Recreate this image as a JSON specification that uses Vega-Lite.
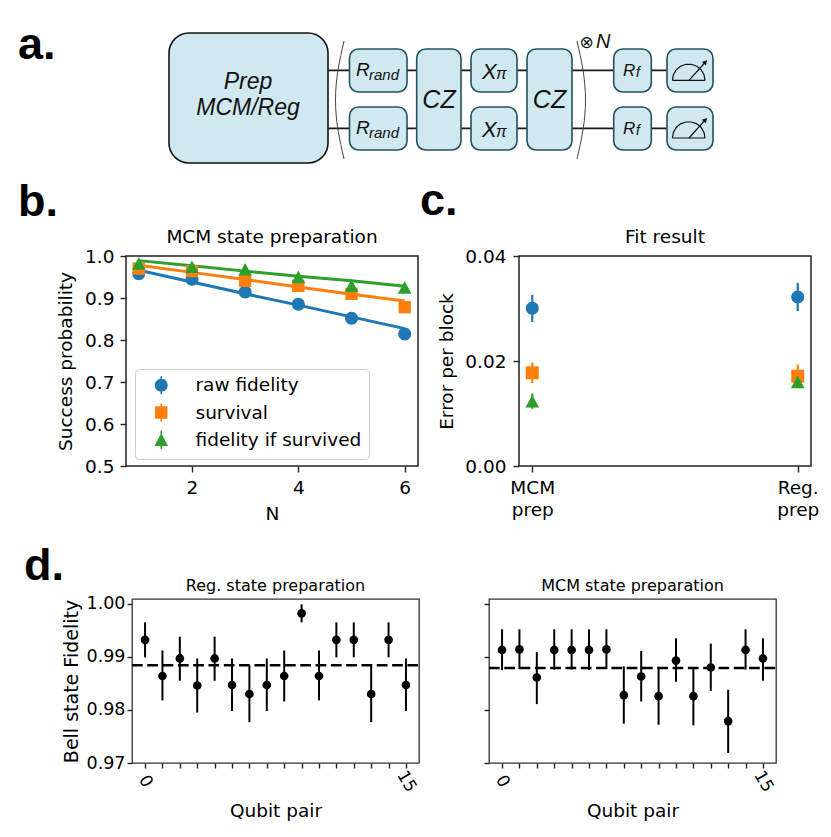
{"$schema":"https://vega.github.io/schema/vega-lite/v6.json","padding":0,"background":"white","spacing":0,
"resolve":{"scale":{"color":"independent","shape":"independent"},"legend":{"color":"independent","shape":"independent"}},
"config":{"font":"DejaVu Sans","view":{"stroke":null},"axis":{"grid":false,"domain":false,"tickColor":"#222","tickWidth":1.4,"tickSize":6,"labelColor":"#000","titleColor":"#000","titleFontWeight":"normal","labelFontWeight":"normal","labelFont":"DejaVu Sans","titleFont":"DejaVu Sans"},"title":{"fontWeight":"normal","color":"#000","font":"DejaVu Sans","anchor":"middle"}},
"datasets":{
"wires":[{"g":"t","x":328,"y":70.3},{"g":"t","x":667,"y":70.3},{"g":"b","x":328,"y":128.3},{"g":"b","x":667,"y":128.3}],
"brackets":[{"g":"l","i":0,"x":344,"y":41},{"g":"l","i":1,"x":338,"y":70},{"g":"l","i":2,"x":335.5,"y":100},{"g":"l","i":3,"x":338,"y":130},{"g":"l","i":4,"x":344,"y":159},{"g":"r","i":0,"x":577,"y":41},{"g":"r","i":1,"x":583,"y":70},{"g":"r","i":2,"x":585.5,"y":100},{"g":"r","i":3,"x":583,"y":130},{"g":"r","i":4,"x":577,"y":159}],
"big":[{"name":"prep","x":169,"x2":328,"y":33,"y2":163}],
"boxes":[{"name":"Rrand1","x":349.5,"x2":407,"y":49,"y2":92},{"name":"Rrand2","x":349.5,"x2":407,"y":107,"y2":150},{"name":"CZ1","x":416.7,"x2":461,"y":49,"y2":150},{"name":"X1","x":471,"x2":517,"y":49,"y2":92},{"name":"X2","x":471,"x2":517,"y":107,"y2":150},{"name":"CZ2","x":527,"x2":572,"y":49,"y2":150},{"name":"Rf1","x":613.7,"x2":651.3,"y":49,"y2":92},{"name":"Rf2","x":613.7,"x2":651.3,"y":107,"y2":150},{"name":"M1","x":667,"x2":713,"y":49,"y2":92},{"name":"M2","x":667,"x2":713,"y":107,"y2":150}],
"meters":[{"g":"a1","x":672.4,"y":80.3},{"g":"a1","x":673.4,"y":74.7},{"g":"a1","x":676.2,"y":69.8},{"g":"a1","x":680.5,"y":66.2},{"g":"a1","x":685.9,"y":64.3},{"g":"a1","x":691.5,"y":64.3},{"g":"a1","x":696.9,"y":66.2},{"g":"a1","x":701.2,"y":69.8},{"g":"a1","x":704,"y":74.7},{"g":"a1","x":705,"y":80.3},{"g":"c1","x":672.4,"y":80.3},{"g":"c1","x":705,"y":80.3},{"g":"n1","x":689,"y":80.3},{"g":"n1","x":705,"y":62.5},
{"g":"a2","x":672.4,"y":138},{"g":"a2","x":673.4,"y":132.4},{"g":"a2","x":676.2,"y":127.5},{"g":"a2","x":680.5,"y":123.9},{"g":"a2","x":685.9,"y":122},{"g":"a2","x":691.5,"y":122},{"g":"a2","x":696.9,"y":123.9},{"g":"a2","x":701.2,"y":127.5},{"g":"a2","x":704,"y":132.4},{"g":"a2","x":705,"y":138},{"g":"c2","x":672.4,"y":138},{"g":"c2","x":705,"y":138},{"g":"n2","x":689,"y":138},{"g":"n2","x":705,"y":120.2}],
"arrowheads":[{"x":705.5,"y":62},{"x":705.5,"y":119.7}],
"b":[{"N":1,"s":"raw fidelity","v":0.958,"lo":0.954,"hi":0.962},{"N":2,"s":"raw fidelity","v":0.9445,"lo":0.941,"hi":0.948},{"N":3,"s":"raw fidelity","v":0.914,"lo":0.91,"hi":0.918},{"N":4,"s":"raw fidelity","v":0.885,"lo":0.881,"hi":0.889},{"N":5,"s":"raw fidelity","v":0.852,"lo":0.848,"hi":0.856},{"N":6,"s":"raw fidelity","v":0.814,"lo":0.81,"hi":0.818},
{"N":1,"s":"survival","v":0.97,"lo":0.966,"hi":0.974},{"N":2,"s":"survival","v":0.964,"lo":0.96,"hi":0.968},{"N":3,"s":"survival","v":0.941,"lo":0.937,"hi":0.945},{"N":4,"s":"survival","v":0.929,"lo":0.925,"hi":0.933},{"N":5,"s":"survival","v":0.91,"lo":0.906,"hi":0.914},{"N":6,"s":"survival","v":0.878,"lo":0.874,"hi":0.882},
{"N":1,"s":"fidelity if survived","v":0.982,"lo":0.978,"hi":0.986},{"N":2,"s":"fidelity if survived","v":0.974,"lo":0.97,"hi":0.978},{"N":3,"s":"fidelity if survived","v":0.968,"lo":0.964,"hi":0.972},{"N":4,"s":"fidelity if survived","v":0.95,"lo":0.946,"hi":0.954},{"N":5,"s":"fidelity if survived","v":0.929,"lo":0.925,"hi":0.933},{"N":6,"s":"fidelity if survived","v":0.925,"lo":0.921,"hi":0.929}],
"bfit":[{"N":1,"s":"raw fidelity","f":0.966},{"N":2,"s":"raw fidelity","f":0.938},{"N":3,"s":"raw fidelity","f":0.91},{"N":4,"s":"raw fidelity","f":0.883},{"N":5,"s":"raw fidelity","f":0.855},{"N":6,"s":"raw fidelity","f":0.827},
{"N":1,"s":"survival","f":0.978},{"N":2,"s":"survival","f":0.961},{"N":3,"s":"survival","f":0.944},{"N":4,"s":"survival","f":0.926},{"N":5,"s":"survival","f":0.909},{"N":6,"s":"survival","f":0.893},
{"N":1,"s":"fidelity if survived","f":0.989},{"N":2,"s":"fidelity if survived","f":0.977},{"N":3,"s":"fidelity if survived","f":0.964},{"N":4,"s":"fidelity if survived","f":0.952},{"N":5,"s":"fidelity if survived","f":0.941},{"N":6,"s":"fidelity if survived","f":0.928}],
"c":[{"p":0,"s":"raw fidelity","v":0.03005,"lo":0.0274,"hi":0.0326},{"p":1,"s":"raw fidelity","v":0.0322,"lo":0.0295,"hi":0.0349},{"p":0,"s":"survival","v":0.01775,"lo":0.0158,"hi":0.0197},{"p":1,"s":"survival","v":0.0171,"lo":0.0151,"hi":0.0193},{"p":0,"s":"fidelity if survived","v":0.0123,"lo":0.0109,"hi":0.0138},{"p":1,"s":"fidelity if survived","v":0.016,"lo":0.015,"hi":0.0171}],
"d1":[{"q":0,"v":0.9932,"lo":0.9899,"hi":0.9965},{"q":1,"v":0.9864,"lo":0.9818,"hi":0.9912},{"q":2,"v":0.9897,"lo":0.9855,"hi":0.9938},{"q":3,"v":0.9846,"lo":0.9795,"hi":0.9897},{"q":4,"v":0.9897,"lo":0.9855,"hi":0.9938},{"q":5,"v":0.9847,"lo":0.9798,"hi":0.9897},{"q":6,"v":0.983,"lo":0.9777,"hi":0.9884},{"q":7,"v":0.9847,"lo":0.9798,"hi":0.9897},{"q":8,"v":0.9864,"lo":0.9816,"hi":0.9912},{"q":9,"v":0.9982,"lo":0.9965,"hi":0.9999},{"q":10,"v":0.9864,"lo":0.9818,"hi":0.9912},{"q":11,"v":0.9932,"lo":0.9899,"hi":0.9965},{"q":12,"v":0.9932,"lo":0.9899,"hi":0.9965},{"q":13,"v":0.983,"lo":0.9777,"hi":0.9884},{"q":14,"v":0.9932,"lo":0.9899,"hi":0.9965},{"q":15,"v":0.9847,"lo":0.9798,"hi":0.9897}],
"d2":[{"q":0,"v":0.9913,"lo":0.9875,"hi":0.9952},{"q":1,"v":0.9914,"lo":0.9877,"hi":0.9952},{"q":2,"v":0.9861,"lo":0.9811,"hi":0.9909},{"q":3,"v":0.9913,"lo":0.9876,"hi":0.9952},{"q":4,"v":0.9913,"lo":0.9876,"hi":0.9952},{"q":5,"v":0.9913,"lo":0.9875,"hi":0.9952},{"q":6,"v":0.9914,"lo":0.9877,"hi":0.9952},{"q":7,"v":0.9828,"lo":0.9774,"hi":0.9882},{"q":8,"v":0.9863,"lo":0.9816,"hi":0.9911},{"q":9,"v":0.9826,"lo":0.9772,"hi":0.9881},{"q":10,"v":0.9893,"lo":0.9853,"hi":0.9935},{"q":11,"v":0.9826,"lo":0.9771,"hi":0.988},{"q":12,"v":0.988,"lo":0.9836,"hi":0.9925},{"q":13,"v":0.9779,"lo":0.9719,"hi":0.9838},{"q":14,"v":0.9913,"lo":0.9876,"hi":0.9952},{"q":15,"v":0.9897,"lo":0.9855,"hi":0.9935}]
},
"vconcat":[
{"width":720,"height":179,
"encoding":{"x":{"field":"x","type":"quantitative","scale":{"domain":[0,720],"nice":false,"zero":false},"axis":null},"y":{"field":"y","type":"quantitative","scale":{"domain":[179,0],"nice":false,"zero":false},"axis":null}},
"layer":[
{"data":{"name":"wires"},"mark":{"type":"line","color":"#1a1a1a","strokeWidth":1.8},"encoding":{"detail":{"field":"g"}}},
{"data":{"name":"brackets"},"mark":{"type":"line","color":"#444","strokeWidth":1,"interpolate":"natural"},"encoding":{"detail":{"field":"g"},"order":{"field":"i"}}},
{"data":{"name":"big"},"mark":{"type":"rect","fill":"#d0e9f1","stroke":"#111","strokeWidth":1.6,"cornerRadius":20},"encoding":{"x2":{"field":"x2"},"y2":{"field":"y2"}}},
{"data":{"name":"boxes"},"mark":{"type":"rect","fill":"#d0e9f1","stroke":"#23515e","strokeWidth":1.6,"cornerRadius":9},"encoding":{"x2":{"field":"x2"},"y2":{"field":"y2"}}},
{"data":{"name":"meters"},"mark":{"type":"line","color":"#111","strokeWidth":1.2},"encoding":{"detail":{"field":"g"}}},
{"data":{"name":"arrowheads"},"mark":{"type":"point","shape":"triangle-up","filled":true,"color":"#111","size":30,"angle":42,"opacity":1}},
{"data":{"values":[{"x":18,"y":59,"t":"a."}]},"mark":{"type":"text","font":"Liberation Sans","fontWeight":"bold","fontSize":45,"align":"left","baseline":"alphabetic","color":"#000"},"encoding":{"text":{"field":"t"}}},
{"data":{"values":[{"x":248,"y":89,"t":"Prep"},{"x":248,"y":115,"t":"MCM/Reg"}]},"mark":{"type":"text","font":"Liberation Sans","fontStyle":"italic","fontSize":23,"align":"center","baseline":"alphabetic","color":"#111"},"encoding":{"text":{"field":"t"}}},
{"data":{"values":[{"x":356,"y":76.3,"t":"R"},{"x":356,"y":134,"t":"R"}]},"mark":{"type":"text","font":"Liberation Sans","fontStyle":"italic","fontSize":19,"align":"left","baseline":"alphabetic","color":"#111"},"encoding":{"text":{"field":"t"}}},
{"data":{"values":[{"x":369,"y":79.7,"t":"rand"},{"x":369,"y":137.7,"t":"rand"}]},"mark":{"type":"text","font":"Liberation Sans","fontStyle":"italic","fontSize":15,"align":"left","baseline":"alphabetic","color":"#111"},"encoding":{"text":{"field":"t"}}},
{"data":{"values":[{"x":439,"y":107.5,"t":"CZ"},{"x":549.5,"y":107.5,"t":"CZ"}]},"mark":{"type":"text","font":"Liberation Sans","fontStyle":"italic","fontSize":25,"align":"center","baseline":"alphabetic","color":"#111"},"encoding":{"text":{"field":"t"}}},
{"data":{"values":[{"x":482,"y":79.3,"t":"X"},{"x":482,"y":137,"t":"X"}]},"mark":{"type":"text","font":"Liberation Sans","fontStyle":"italic","fontSize":22,"align":"left","baseline":"alphabetic","color":"#111"},"encoding":{"text":{"field":"t"}}},
{"data":{"values":[{"x":496,"y":79.3,"t":"π"},{"x":496,"y":137,"t":"π"}]},"mark":{"type":"text","font":"Liberation Sans","fontStyle":"italic","fontSize":16,"align":"left","baseline":"alphabetic","color":"#111"},"encoding":{"text":{"field":"t"}}},
{"data":{"values":[{"x":623,"y":76.3,"t":"R"},{"x":623,"y":134,"t":"R"}]},"mark":{"type":"text","font":"Liberation Sans","fontStyle":"italic","fontSize":17,"align":"left","baseline":"alphabetic","color":"#111"},"encoding":{"text":{"field":"t"}}},
{"data":{"values":[{"x":636,"y":77,"t":"f"},{"x":636,"y":134.7,"t":"f"}]},"mark":{"type":"text","font":"Liberation Sans","fontStyle":"italic","fontSize":14,"align":"left","baseline":"alphabetic","color":"#111"},"encoding":{"text":{"field":"t"}}},
{"data":{"values":[{"x":586.7,"y":48,"t":"⊗"}]},"mark":{"type":"text","font":"DejaVu Sans","fontSize":17,"align":"center","baseline":"alphabetic","color":"#111"},"encoding":{"text":{"field":"t"}}},
{"data":{"values":[{"x":596,"y":48,"t":"N"}]},"mark":{"type":"text","font":"Liberation Sans","fontStyle":"italic","fontSize":20,"align":"left","baseline":"alphabetic","color":"#111"},"encoding":{"text":{"field":"t"}}}
]},
{"spacing":0,"bounds":"flush","hconcat":[
{"width":126,"height":210,"data":{"values":[{"x":18,"y":216,"t":"b."}]},"mark":{"type":"text","font":"Liberation Sans","fontWeight":"bold","fontSize":45,"align":"left","baseline":"alphabetic","color":"#000"},"encoding":{"text":{"field":"t"},"x":{"field":"x","type":"quantitative","scale":{"domain":[0,126],"nice":false,"zero":false},"axis":null},"y":{"field":"y","type":"quantitative","scale":{"domain":[466,256],"nice":false,"zero":false},"axis":null}}},
{"width":292,"height":210,"view":{"stroke":"#222","strokeWidth":1.5},
"title":{"text":"MCM state preparation","fontSize":18.5,"offset":1},
"encoding":{"x":{"field":"N","type":"quantitative","title":"N","scale":{"domain":[0.76,6.25],"nice":false,"zero":false},"axis":{"values":[2,4,6],"labelFontSize":18.5,"titleFontSize":18.5,"labelPadding":6,"titlePadding":7.5}}},
"resolve":{"scale":{"color":"independent","shape":"independent"},"legend":{"color":"independent","shape":"independent"}},
"layer":[
{"data":{"name":"b"},"mark":{"type":"rule","strokeWidth":2},"encoding":{"y":{"field":"lo","type":"quantitative","title":"Success probability","scale":{"domain":[0.5,1],"nice":false,"zero":false},"axis":{"values":[0.5,0.6,0.7,0.8,0.9,1],"format":".1f","labelFontSize":18.5,"titleFontSize":18.5,"labelPadding":6,"titlePadding":9}},"y2":{"field":"hi"},"color":{"field":"s","type":"nominal","legend":null,"scale":{"domain":["raw fidelity","survival","fidelity if survived"],"range":["#1f77b4","#ff7f0e","#2ca02c"]}}}},
{"data":{"name":"bfit"},"mark":{"type":"line","strokeWidth":3},"encoding":{"y":{"field":"f","type":"quantitative"},"color":{"field":"s","type":"nominal","legend":null,"scale":{"domain":["raw fidelity","survival","fidelity if survived"],"range":["#1f77b4","#ff7f0e","#2ca02c"]}}}},
{"data":{"name":"b"},"mark":{"type":"point","filled":true,"opacity":1,"size":169},"encoding":{"y":{"field":"v","type":"quantitative"},
"color":{"field":"s","type":"nominal","legend":null,"scale":{"domain":["raw fidelity","survival","fidelity if survived"],"range":["#1f77b4","#ff7f0e","#2ca02c"]}},
"shape":{"field":"s","type":"nominal","legend":null,"scale":{"domain":["raw fidelity","survival","fidelity if survived"],"range":["M-1,0A1,1,0,1,1,1,0A1,1,0,1,1,-1,0Z","M-0.95,-0.95H0.95V0.95H-0.95Z","M0,-1L1.05,0.95L-1.05,0.95Z"]}}}},
{"data":{"name":"b"},"mark":{"type":"point","filled":true,"opacity":0,"size":169},"encoding":{"y":{"field":"v","type":"quantitative"},
"color":{"field":"s","type":"nominal","scale":{"domain":["raw fidelity","survival","fidelity if survived"],"range":["#1f77b4","#ff7f0e","#2ca02c"]},"legend":{"title":null,"orient":"none","legendX":9,"legendY":113,"strokeColor":"#ccc","fillColor":"#ffffff","cornerRadius":4,"padding":7,"labelFontSize":18.5,"labelLimit":400,"labelColor":"#000","labelFont":"DejaVu Sans","symbolSize":169,"rowPadding":2.3,"symbolOffset":10,"labelOffset":25,"symbolOpacity":1}},
"shape":{"field":"s","type":"nominal","scale":{"domain":["raw fidelity","survival","fidelity if survived"],"range":["M-1,0A1,1,0,1,1,1,0A1,1,0,1,1,-1,0ZM-0.12,-1.4H0.12V1.4H-0.12Z","M-0.95,-0.95H0.95V0.95H-0.95ZM-0.12,-1.4H0.12V1.4H-0.12Z","M0,-1L1.05,0.95L-1.05,0.95ZM-0.12,-1.4H0.12V1.4H-0.12Z"]},"legend":{"title":null,"orient":"none","legendX":9,"legendY":113,"strokeColor":"#ccc","fillColor":"#ffffff","cornerRadius":4,"padding":7,"labelFontSize":18.5,"labelLimit":400,"labelColor":"#000","labelFont":"DejaVu Sans","symbolSize":169,"rowPadding":2.3,"symbolOffset":10,"labelOffset":25,"symbolOpacity":1}}}}
]},
{"width":100.7,"height":210,"data":{"values":[{"x":420,"y":215,"t":"c."}]},"mark":{"type":"text","font":"Liberation Sans","fontWeight":"bold","fontSize":45,"align":"left","baseline":"alphabetic","color":"#000"},"encoding":{"text":{"field":"t"},"x":{"field":"x","type":"quantitative","scale":{"domain":[418,518.7],"nice":false,"zero":false},"axis":null},"y":{"field":"y","type":"quantitative","scale":{"domain":[466,256],"nice":false,"zero":false},"axis":null}}},
{"width":292,"height":210,"view":{"stroke":"#222","strokeWidth":1.5},
"title":{"text":"Fit result","fontSize":18.5,"offset":1},
"data":{"name":"c"},
"encoding":{"x":{"field":"p","type":"quantitative","title":null,"scale":{"domain":[-0.05,1.05],"nice":false,"zero":false},"axis":{"values":[0,1],"labelFontSize":18.5,"labelPadding":6,"labelLineHeight":22,"labelFlush":false,"labelOverlap":false,"labelExpr":"datum.value==0?['MCM','prep']:['Reg.','prep']"}}},
"layer":[
{"mark":{"type":"rule","strokeWidth":2.2},"encoding":{"y":{"field":"lo","type":"quantitative","title":"Error per block","scale":{"domain":[0,0.04],"nice":false},"axis":{"values":[0,0.02,0.04],"format":".2f","labelFontSize":18.5,"titleFontSize":18.5,"labelPadding":7,"titlePadding":8}},"y2":{"field":"hi"},"color":{"field":"s","type":"nominal","legend":null,"scale":{"domain":["raw fidelity","survival","fidelity if survived"],"range":["#1f77b4","#ff7f0e","#2ca02c"]}}}},
{"mark":{"type":"point","filled":true,"opacity":1,"size":169},"encoding":{"y":{"field":"v","type":"quantitative"},"color":{"field":"s","type":"nominal","legend":null},"shape":{"field":"s","type":"nominal","legend":null,"scale":{"domain":["raw fidelity","survival","fidelity if survived"],"range":["M-1,0A1,1,0,1,1,1,0A1,1,0,1,1,-1,0Z","M-1,-1H1V1H-1Z","M0,-1L1.05,0.95L-1.05,0.95Z"]}}}}
]}
],"resolve":{"scale":{"color":"independent","shape":"independent"},"legend":{"color":"independent","shape":"independent"}}},
{"width":10,"height":20,"data":{"values":[{}]},"mark":{"type":"point","opacity":0},"encoding":{}},
{"spacing":0,"bounds":"flush","hconcat":[
{"width":131.7,"height":164,"data":{"values":[{"x":24,"y":581,"t":"d."}]},"mark":{"type":"text","font":"Liberation Sans","fontWeight":"bold","fontSize":45,"align":"left","baseline":"alphabetic","color":"#000"},"encoding":{"text":{"field":"t"},"x":{"field":"x","type":"quantitative","scale":{"domain":[0,131.7],"nice":false,"zero":false},"axis":null},"y":{"field":"y","type":"quantitative","scale":{"domain":[764,600],"nice":false,"zero":false},"axis":null}}},
{"width":287,"height":164,"view":{"stroke":"#333","strokeWidth":1.3},
"title":{"text":"Reg. state preparation","fontSize":16,"offset":1},
"encoding":{"x":{"field":"q","type":"quantitative","title":"Qubit pair","scale":{"domain":[-0.75,15.75],"nice":false,"zero":false},"axis":{"values":[0,1,2,3,4,5,6,7,8,9,10,11,12,13,14,15],"labelExpr":"datum.value==0||datum.value==15?datum.label:''","labelAngle":60,"labelAlign":"center","labelBaseline":"middle","labelOverlap":false,"labelFlush":false,"labelFontSize":17,"titleFontSize":18.5,"tickSize":5,"labelPadding":13,"titlePadding":7}}},
"layer":[
{"data":{"name":"d1"},"mark":{"type":"rule","strokeWidth":2,"color":"#000"},"encoding":{"y":{"field":"lo","type":"quantitative","title":"Bell state Fidelity","scale":{"domain":[0.97,1.0009],"nice":false,"zero":false},"axis":{"values":[0.97,0.98,0.99,1],"format":".2f","labelFontSize":17.5,"titleFontSize":19,"tickSize":5,"labelPadding":2,"titlePadding":5}},"y2":{"field":"hi"}}},
{"data":{"values":[{"m":0.98843}]},"mark":{"type":"rule","strokeWidth":2.4,"color":"#000","strokeDash":[10.7,4.6]},"encoding":{"y":{"field":"m","type":"quantitative"},"x":{"value":0},"x2":{"value":287}}},
{"data":{"name":"d1"},"mark":{"type":"circle","size":75,"opacity":1,"color":"#000"},"encoding":{"y":{"field":"v","type":"quantitative"}}}
]},
{"width":70,"height":164,"data":{"values":[{}]},"mark":{"type":"point","opacity":0},"encoding":{}},
{"width":287,"height":164,"view":{"stroke":"#333","strokeWidth":1.3},
"title":{"text":"MCM state preparation","fontSize":16,"offset":5},
"encoding":{"x":{"field":"q","type":"quantitative","title":"Qubit pair","scale":{"domain":[-0.75,15.75],"nice":false,"zero":false},"axis":{"values":[0,1,2,3,4,5,6,7,8,9,10,11,12,13,14,15],"labelExpr":"datum.value==0||datum.value==15?datum.label:''","labelAngle":60,"labelAlign":"center","labelBaseline":"middle","labelOverlap":false,"labelFlush":false,"labelFontSize":17,"titleFontSize":18.5,"tickSize":5,"labelPadding":13,"titlePadding":7}}},
"layer":[
{"data":{"name":"d2"},"mark":{"type":"rule","strokeWidth":2,"color":"#000"},"encoding":{"y":{"field":"lo","type":"quantitative","title":null,"scale":{"domain":[0.97,1.0009],"nice":false,"zero":false},"axis":{"values":[0.97,0.98,0.99,1],"labels":false,"tickSize":5}},"y2":{"field":"hi"}}},
{"data":{"values":[{"m":0.9879}]},"mark":{"type":"rule","strokeWidth":2.4,"color":"#000","strokeDash":[10.7,4.6]},"encoding":{"y":{"field":"m","type":"quantitative"},"x":{"value":0},"x2":{"value":287}}},
{"data":{"name":"d2"},"mark":{"type":"circle","size":75,"opacity":1,"color":"#000"},"encoding":{"y":{"field":"v","type":"quantitative"}}}
]}
]}
]}
